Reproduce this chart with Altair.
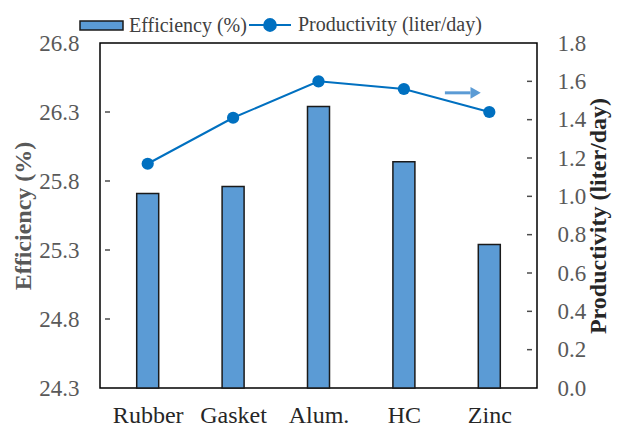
import altair as alt
import pandas as pd

categories = ["Rubber", "Gasket", "Alum.", "HC", "Zinc"]
efficiency = [25.71, 25.76, 26.34, 25.94, 25.34]
productivity = [1.17, 1.41, 1.60, 1.56, 1.44]
eff_ticks = [24.3, 24.8, 25.3, 25.8, 26.3, 26.8]
prod_ticks = [0.0, 0.2, 0.4, 0.6, 0.8, 1.0, 1.2, 1.4, 1.6, 1.8]
arrow_x = [3.48, 3.78]
arrow_head_x = 3.84
arrow_y = 1.54

FONT = "Liberation Serif"
BAR = "#5b9bd5"
LINE = "#0070c0"

df = pd.DataFrame({
    "idx": list(range(len(categories))),
    "cat": categories,
    "eff": efficiency,
    "prod": productivity,
    "se": "Efficiency (%)",
    "sp": "Productivity (liter/day)",
})
eff_df = pd.DataFrame({"v": eff_ticks[1:-1]})
prod_df = pd.DataFrame({"v": prod_ticks[1:-1]})

label_expr = "[" + ",".join("'" + c + "'" for c in categories) + "][datum.value]"
x_scale = alt.Scale(domain=[-0.5, len(categories) - 0.5], nice=False, zero=False)
x_axis = alt.Axis(values=list(range(len(categories))), labelExpr=label_expr, ticks=False,
                  domain=False, grid=False, labelPadding=15, labelFontSize=24,
                  labelFont=FONT, labelColor="#262626", title=None)

def xq(field=None, datum=None):
    if datum is not None:
        return alt.X(datum=datum, type="quantitative", scale=x_scale, axis=x_axis)
    return alt.X(field, type="quantitative", scale=x_scale, axis=x_axis)

left_scale = alt.Scale(domain=[eff_ticks[0], eff_ticks[-1]], nice=False, zero=False)
left_axis = alt.Axis(orient="left", values=eff_ticks, format=".1f", ticks=False, domain=False,
                     grid=False, labelFont=FONT, labelFontSize=23, labelColor="#595959",
                     labelPadding=21, title="Efficiency (%)", titleFont=FONT, titleFontSize=24,
                     titleFontWeight="bold", titleColor="#595959", titlePadding=3)
right_scale = alt.Scale(domain=[prod_ticks[0], prod_ticks[-1]], nice=False, zero=False)
right_axis = alt.Axis(orient="right", values=prod_ticks, format=".1f", ticks=False, domain=False,
                      grid=False, labelFont=FONT, labelFontSize=23, labelColor="#595959",
                      labelPadding=20, title="Productivity (liter/day)", titleFont=FONT,
                      titleFontSize=24, titleFontWeight="bold", titleColor="#262626",
                      titlePadding=1, titleAngle=270, titleBaseline="top")

def yl(field=None, datum=None):
    if datum is not None:
        return alt.Y(datum=datum, type="quantitative", scale=left_scale, axis=left_axis)
    return alt.Y(field, type="quantitative", scale=left_scale, axis=left_axis)

def yr(field=None, datum=None):
    if datum is not None:
        return alt.Y(datum=datum, type="quantitative", scale=right_scale, axis=right_axis)
    return alt.Y(field, type="quantitative", scale=right_scale, axis=right_axis)

bars = alt.Chart(df).mark_bar(size=22, stroke="#1a1a1a", strokeWidth=1.5).encode(
    x=xq("idx"),
    y=yl("eff"),
    y2=alt.Y2(datum=eff_ticks[0]),
    fill=alt.Fill("se:N", scale=alt.Scale(domain=["Efficiency (%)"], range=[BAR]),
                  legend=alt.Legend(orient="none", legendX=-21, legendY=-40, title=None,
                                    symbolType="M-1,-0.21H1V0.21H-1Z", symbolSize=1849,
                                    symbolStrokeColor="#1a1a1a", symbolStrokeWidth=1.5,
                                    labelFont=FONT, labelFontSize=20, labelColor="#404040",
                                    labelOffset=5, labelLimit=400)),
)
lticks = alt.Chart(eff_df).mark_tick(orient="horizontal", size=5, thickness=1.5,
                                     xOffset=2.5, color="#000000").encode(
    x=xq(datum=-0.5), y=yl("v"))
left = alt.layer(bars, lticks)

line = alt.Chart(df).mark_line(strokeWidth=2).encode(
    x=xq("idx"),
    y=yr("prod"),
    stroke=alt.Stroke("sp:N", scale=alt.Scale(domain=["Productivity (liter/day)"], range=[LINE]),
                      legend=alt.Legend(orient="none", legendX=148, legendY=-40, title=None,
                                        symbolType="M-1,0H1M-0.28,0A0.28,0.28 0 1,0 0.28,0A0.28,0.28 0 1,0 -0.28,0Z",
                                        symbolSize=1764, symbolStrokeWidth=2,
                                        symbolFillColor=LINE,
                                        labelFont=FONT, labelFontSize=20, labelColor="#404040",
                                        labelOffset=6, labelLimit=400)),
)
pts = alt.Chart(df).mark_point(filled=True, size=150, color=LINE, opacity=1).encode(
    x=xq("idx"), y=yr("prod"))
rticks = alt.Chart(prod_df).mark_tick(orient="horizontal", size=5, thickness=1.5,
                                      xOffset=-2.5, color="#000000").encode(
    x=xq(datum=len(categories) - 0.5), y=yr("v"))
arrow_df = pd.DataFrame({"x0": [arrow_x[0]], "x1": [arrow_x[1]], "y": [arrow_y], "hx": [arrow_head_x]})
arrow = alt.Chart(arrow_df).mark_rule(strokeWidth=3, color=BAR).encode(
    x=xq("x0"), x2=alt.X2("x1"), y=yr("y"))
head = alt.Chart(arrow_df).mark_point(shape="triangle-right", filled=True, size=140,
                                      color=BAR, opacity=1).encode(
    x=xq("hx"), y=yr("y"))
right = alt.layer(line, pts, rticks, arrow, head)

chart = alt.layer(left, right).resolve_scale(y="independent").properties(
    width=437, height=345,
    autosize=alt.AutoSizeParams(type="none"),
    padding={"left": 92, "top": 35, "right": 78, "bottom": 38},
).configure(font=FONT).configure_view(stroke="#000000", strokeWidth=1.5).configure_axis(
    labelFont=FONT, titleFont=FONT
).configure_legend(labelFont=FONT)

chart.save("out.html", embed_options={"renderer": "svg", "actions": False})
